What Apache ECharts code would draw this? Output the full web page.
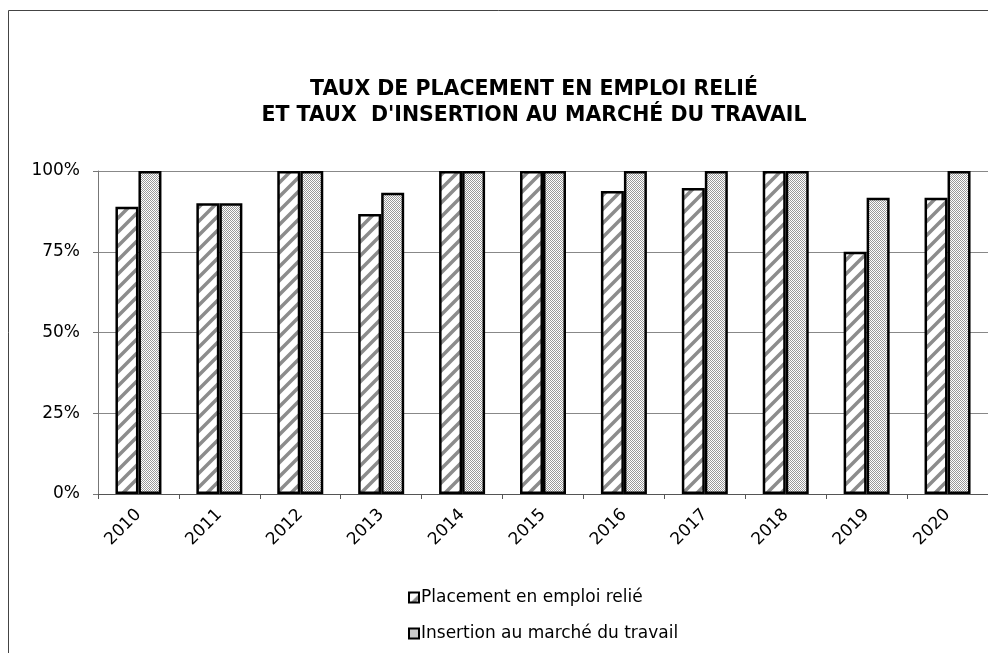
<!DOCTYPE html>
<html>
<head>
<meta charset="utf-8">
<script src="https://cdn.jsdelivr.net/npm/echarts@6/dist/echarts.min.js"></script>
<style>
  html, body { margin: 0; padding: 0; background: #fff; }
  #chart { width: 988px; height: 653px; }
</style>
</head>
<body>
<div id="chart"></div>
<script>
// données (en %)
const years = ['2010', '2011', '2012', '2013', '2014', '2015', '2016', '2017', '2018', '2019', '2020'];
const placement = [88.9, 90, 100, 86.7, 100, 100, 93.8, 94.7, 100, 75, 91.7];
const insertion = [100, 90, 100, 93.3, 100, 100, 100, 100, 100, 91.7, 100];
const seriesNames = ['Placement en emploi relié', 'Insertion au marché du travail'];
const yTicks = [0, 25, 50, 75, 100];

// motif hachuré (diagonales grises)
function stripes() {
  const s = 14;
  const c = document.createElement('canvas');
  c.width = s; c.height = s;
  const ctx = c.getContext('2d');
  ctx.fillStyle = '#fff';
  ctx.fillRect(0, 0, s, s);
  ctx.strokeStyle = '#8c8c8c';
  ctx.lineWidth = 3.5;
  ctx.beginPath();
  ctx.moveTo(0, s); ctx.lineTo(s, 0);          // x+y = s
  ctx.moveTo(-s, s); ctx.lineTo(s, -s);        // x+y = 0
  ctx.moveTo(0, 2 * s); ctx.lineTo(2 * s, 0);  // x+y = 2s
  ctx.stroke();
  return c;
}
// motif quadrillé fin
function checker() {
  const c = document.createElement('canvas');
  c.width = 2; c.height = 2;
  const ctx = c.getContext('2d');
  ctx.fillStyle = '#fff';
  ctx.fillRect(0, 0, 2, 2);
  ctx.fillStyle = '#999';
  ctx.fillRect(0, 0, 1, 1);
  ctx.fillRect(1, 1, 1, 1);
  return c;
}

const font = '"DejaVu Sans", sans-serif';
const chart = echarts.init(document.getElementById('chart'));

const option = {
  animation: false,
  title: {
    text: 'TAUX DE PLACEMENT EN EMPLOI RELIÉ\nET TAUX  D\'INSERTION AU MARCHÉ DU TRAVAIL',
    left: 529,
    top: 72,
    textAlign: 'center',
    textStyle: { fontFamily: font, fontWeight: 'bold', fontSize: 20.5, lineHeight: 26, color: '#000' }
  },
  graphic: [{
    type: 'rect',
    shape: { x: 8.5, y: 10.5, width: 1000, height: 700 },
    style: { fill: 'none', stroke: '#444', lineWidth: 1 },
    silent: true
  }],
  legend: {
    orient: 'vertical',
    left: 403,
    top: 584,
    itemWidth: 10,
    itemHeight: 10,
    itemGap: 19,
    icon: 'rect',
    textStyle: { fontFamily: font, fontSize: 17, color: '#000', padding: [0, 0, 0, -3] },
    data: seriesNames
  },
  grid: { left: 98, top: 171, width: 893, height: 323 },
  xAxis: {
    type: 'category',
    data: years,
    axisLine: { lineStyle: { color: '#555', width: 1 } },
    axisTick: { show: true, length: 5, lineStyle: { color: '#555' } },
    axisLabel: { rotate: 45, fontFamily: font, fontSize: 17, color: '#000', margin: 18 }
  },
  yAxis: {
    type: 'value',
    min: 0,
    max: 100,
    interval: 25,
    axisLine: { show: true, lineStyle: { color: '#777' } },
    axisTick: { show: true, length: 5, lineStyle: { color: '#777' } },
    splitLine: { lineStyle: { color: '#888', width: 1 } },
    axisLabel: {
      fontFamily: font, fontSize: 17, color: '#000', margin: 18,
      formatter: v => (yTicks.indexOf(v) >= 0 ? v + '%' : '')
    }
  },
  series: [
    {
      name: seriesNames[0],
      type: 'bar',
      data: placement,
      barWidth: 23,
      barGap: '0%',
      itemStyle: {
        color: { image: stripes(), repeat: 'repeat' },
        borderColor: '#000',
        borderWidth: 2.5
      }
    },
    {
      name: seriesNames[1],
      type: 'bar',
      data: insertion,
      barWidth: 23,
      barGap: '0%',
      itemStyle: {
        color: { image: checker(), repeat: 'repeat' },
        borderColor: '#000',
        borderWidth: 2.5
      }
    }
  ]
};

chart.setOption(option);
</script>
</body>
</html>
